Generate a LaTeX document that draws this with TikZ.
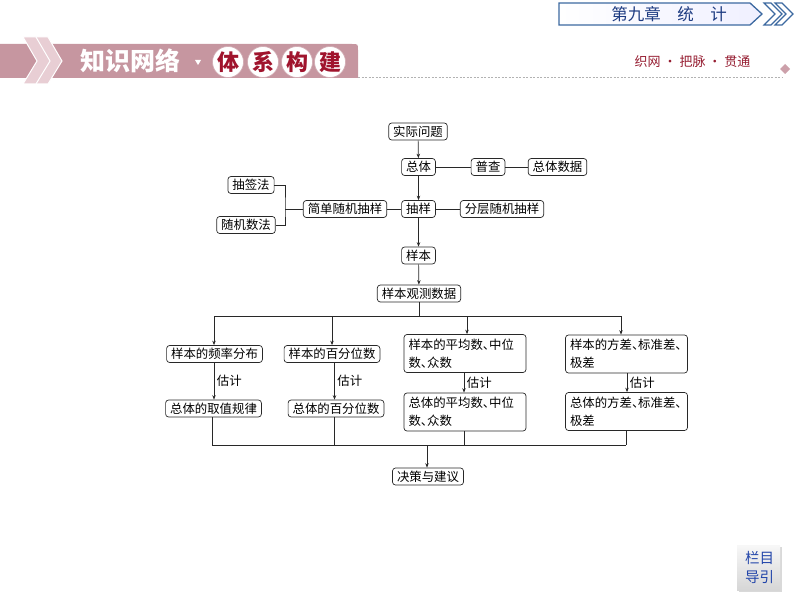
\documentclass[tikz,border=0pt]{standalone}
\usepackage{fontspec}
\setmainfont{Noto Sans CJK SC}
\usetikzlibrary{arrows.meta}
\definecolor{hpink}{RGB}{198,150,160}
\definecolor{lpink}{RGB}{232,206,212}
\definecolor{dred}{RGB}{160,20,45}
\definecolor{tred}{RGB}{150,30,50}
\definecolor{tblue}{RGB}{60,105,160}
\definecolor{dblue}{RGB}{30,60,130}
\definecolor{bblue}{RGB}{35,70,170}
\definecolor{lk}{RGB}{40,40,40}
\newcommand\dun{\makebox[0.5em][l]{、}}
\begin{document}
\begin{tikzpicture}[x=1pt,y=-1pt,
  box/.style={draw=lk,line width=0.7pt,rounded corners=3pt,inner xsep=4.5pt,inner ysep=1pt,
    minimum height=17pt,font=\fontsize{12.4}{18}\selectfont},
  wbox/.style={box,align=left,text width=113pt,minimum height=38pt},
  ln/.style={line width=0.7pt,draw=lk},
  arr/.style={ln,-{Stealth[length=4.5pt,width=3.5pt]}},
  lbl/.style={font=\fontsize{12.4}{14}\selectfont,inner sep=2.5pt},
  chev/.style={fill=lpink,draw=white,line width=1pt},
  tchev/.style={fill=white,draw=tblue,line width=1.2pt,line join=miter}]
\useasboundingbox (0,0) rectangle (794,596);
% ---------- header ----------
\fill[hpink] (0,44) -- (352,44) .. controls (358,44) .. (358,50) -- (358,78) -- (0,78) -- cycle;
\draw[chev] (35,37) -- (48,37) -- (62,61) -- (48,84) -- (35,84) -- (49,61) -- cycle;
\draw[chev] (23,37) -- (36,37) -- (50,61) -- (36,84) -- (23,84) -- (37,61) -- cycle;
\node[text=white,font=\fontsize{25}{25}\selectfont\bfseries] (zswl) at (130,61) {知识网络};
\fill[white] (195,60) -- (201,60) -- (198,65) -- cycle;
\foreach \cx/\ch [count=\i] in {228/体,263/系,297/构,330/建}
  \node[circle,fill=white,draw=hpink!80,line width=0.6pt,minimum size=31pt,inner sep=0pt,
        text=dred,font=\fontsize{22}{22}\selectfont\bfseries] (hc\i) at (\cx,62) {\ch};
\draw[gray!60,line width=0.6pt,dash pattern=on 2pt off 1.5pt] (358,77.5) -- (783,77.5);
\node[text=tred,font=\fontsize{13}{13}\selectfont] (zwbm) at (692.5,62) {织网 · 把脉 · 贯通};
\fill[hpink!90] (785,64) -- (790,69) -- (785,74) -- (780,69) -- cycle;
% top-right chapter box
\shade[left color=white,right color=blue!6] (559,3) -- (750,3) -- (762,14) -- (750,25) -- (559,25) -- cycle;
\draw[tblue,line width=1.3pt,line join=miter] (559,3) -- (750,3) -- (762,14) -- (750,25) -- (559,25) -- cycle;
\draw[tchev] (764,3) -- (771,3) -- (782,14) -- (771,25) -- (764,25) -- (775,14) -- cycle;
\draw[tchev] (775,3) -- (782,3) -- (793,14) -- (782,25) -- (775,25) -- (786,14) -- cycle;
\node[text=dblue,font=\fontsize{16.5}{16.5}\selectfont] (chap) at (669,14) {第九章　统　计};
% bottom-right button
\fill[gray!30] (739,547) rectangle (782,592);
\shade[top color=gray!6,bottom color=gray!32] (737,545) rectangle (780,590);
\node[text=bblue,align=center,font=\fontsize{14.5}{19}\selectfont] (lmdy) at (759.5,567) {栏目\\导引};
% ---------- diagram ----------
\node[box] (sj) at (418,131.5) {实际问题};
\node[box] (zt) at (418.5,167) {总体};
\node[box] (pc) at (488,167) {普查};
\node[box] (ztsj) at (557.5,167) {总体数据};
\node[box] (cqf) at (251,185) {抽签法};
\node[box] (sjsf) at (246,225) {随机数法};
\node[box] (jd) at (345,209) {简单随机抽样};
\node[box] (cy) at (418.5,209) {抽样};
\node[box] (fc) at (502,209) {分层随机抽样};
\node[box] (yb) at (418.5,255.5) {样本};
\node[box] (ybgc) at (419,293.5) {样本观测数据};
\node[box] (a1) at (214.5,354) {样本的频率分布};
\node[box] (b1) at (332,354) {样本的百分位数};
\node[wbox] (c1) at (465,353.5) {样本的平均数\dun 中位\\数\dun 众数};
\node[wbox] (d1) at (626.5,354) {样本的方差\dun 标准差\dun\\极差};
\node[box] (a2) at (213.5,408.5) {总体的取值规律};
\node[box] (b2) at (336,408.5) {总体的百分位数};
\node[wbox] (c2) at (465,412) {总体的平均数\dun 中位\\数\dun 众数};
\node[wbox] (d2) at (626.5,411.5) {总体的方差\dun 标准差\dun\\极差};
\node[box] (jc) at (428,476.5) {决策与建议};
% connectors
\draw[arr] (sj) -- (zt);
\draw[ln] (zt) -- (pc);
\draw[ln] (pc) -- (ztsj);
\draw[arr] (zt) -- (cy);
\draw[ln] (cy) -- (jd);
\draw[ln] (cy) -- (fc);
\coordinate (br) at (285,209);
\draw[ln] (cqf.east) -| (br) |- (sjsf.east);
\draw[ln] (br) -- (jd);
\draw[arr] (cy) -- (yb);
\draw[arr] (yb) -- (ybgc);
\coordinate (tm) at (419,316);
\coordinate (ta) at (214,316);
\coordinate (tb) at (332,316);
\coordinate (tc) at (467,316);
\coordinate (td) at (621,316);
\draw[ln] (ybgc) -- (tm);
\draw[ln] (ta) -- (td);
\draw[arr] (ta) -- (ta |- a1.north);
\draw[arr] (tb) -- (tb |- b1.north);
\draw[arr] (tc) -- (tc |- c1.north);
\draw[arr] (td) -- (td |- d1.north);
\coordinate (ea) at (214,0);
\coordinate (eb) at (334.5,0);
\coordinate (ec) at (464,0);
\coordinate (ed) at (627,0);
\draw[arr] (a1.south -| ea) -- (a2.north -| ea) node[midway,right,lbl] (la) {估计};
\draw[arr] (b1.south -| eb) -- (b2.north -| eb) node[midway,right,lbl] (lb) {估计};
\draw[arr] (c1.south -| ec) -- (c2.north -| ec) node[midway,right,lbl] (lc) {估计};
\draw[arr] (d1.south -| ed) -- (d2.north -| ed) node[midway,right,lbl] (ld) {估计};
\coordinate (ba) at (212,445);
\coordinate (bb) at (334,445);
\coordinate (bc) at (464,445);
\coordinate (bd) at (626,445);
\coordinate (bm) at (427,445);
\draw[ln] (a2.south -| ba) -- (ba);
\draw[ln] (b2.south -| bb) -- (bb);
\draw[ln] (c2.south -| bc) -- (bc);
\draw[ln] (d2.south -| bd) -- (bd);
\draw[ln] (ba) -- (bd);
\draw[arr] (bm) -- (bm |- jc.north);
\end{tikzpicture}
\end{document}
